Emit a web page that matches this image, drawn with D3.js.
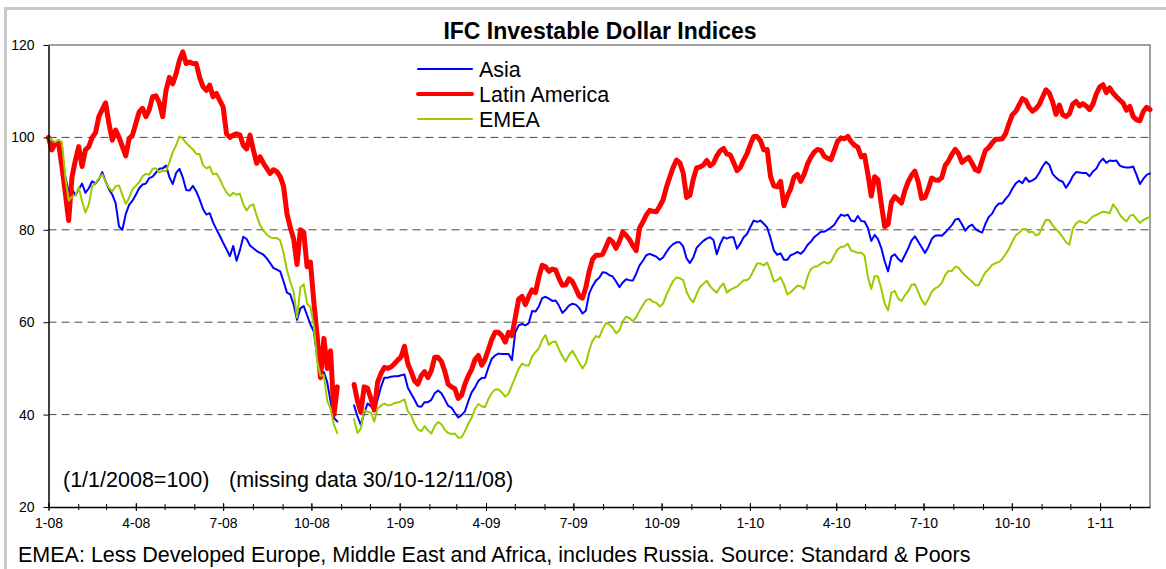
<!DOCTYPE html>
<html>
<head>
<meta charset="utf-8">
<script src="https://cdn.jsdelivr.net/npm/d3@7"></script>
<style>
  body { margin: 0; background: #fff; }
  svg { display: block; font-family: "Liberation Sans", Arial, sans-serif; }
</style>
</head>
<body>
<svg id="chart"></svg>
<script>
// readings twice a week, first one on 1 Jan 2008 (index = 100)
const startDate = new Date(Date.UTC(2008, 0, 1));
const stepHours = 84;

const asia = [
  100, 99.4, 98.7, 99.2, 96.5, 91.5, 88.3, 88.8, 87.5, 88.8,
  90, 88, 89, 90.5, 90, 90.9, 92.5, 90.5, 88.8, 87.6,
  85.7, 80.7, 80, 83.4, 85.4, 86.3, 87.6, 89, 89.8, 90,
  91.2, 91.5, 92.4, 93.2, 93.3, 93.9, 91.4, 89.9, 92.3, 93.2,
  91.3, 88.6, 88.5, 89.5, 88.3, 86.6, 84.5, 83.3, 83.6, 81.6,
  80.1, 78.7, 77.2, 75.8, 74.3, 76.5, 73.3, 75.6, 78.5, 78,
  76.6, 76, 75.4, 75, 74.6, 73.8, 72.8, 71.7, 71.4, 71,
  68.8, 66.4, 66, 63.8, 60.5, 63, 63.5, 61.5, 59.5, 58,
  52.6, 48.9, 49.2, 47, 42.8, 39.3, 38.5, null, null, null,
  null, 42, 39.6, 37.8, 40.3, 42.4, 41.8, 40.8, 43.2, 46,
  48, 48, 48.2, 48.3, 48.3, 48.5, 48.7, 45.8, 44.5, 43.2,
  41.8, 41.7, 42.7, 42.7, 43.2, 44.6, 45.2, 44.6, 43.3, 41.9,
  41.5, 40.4, 39.4, 39.9, 40.7, 42.9, 44.8, 45.9, 47.3, 47.9,
  48, 50.2, 52.1, 52.8, 53.2, 53.1, 53.1, 53.1, 51.8, 57.8,
  59.3, 59.6, 59.3, 59.8, 62.4, 62.3, 63.4, 65.2, 65.5, 65.1,
  64.6, 64.7, 63.6, 62, 62.7, 63.6, 64, 63.8, 63.1, 61.9,
  62.5, 66.2, 67.8, 69, 69.6, 70.8, 70.7, 70.2, 69.9, 68.8,
  67.6, 68.6, 69.3, 69.1, 69, 70.5, 72.3, 73.3, 74.5, 74.8,
  74.5, 74.2, 73.5, 74, 75.2, 76.2, 76.9, 77.3, 77.3, 76.4,
  73.8, 72.8, 74, 76.1, 76.9, 77.6, 78.1, 78.4, 77.8, 74.7,
  76.9, 78.4, 78.1, 78.4, 78.4, 75.9, 77, 78.4, 79.1, 80.6,
  82, 81.7, 82, 81.3, 80.5, 78.2, 75.5, 74.6, 74.9, 73.5,
  73.5, 74.5, 74.8, 75.2, 74.8, 75.5, 76.7, 77.4, 78.4, 79,
  79.6, 79.6, 80, 80.5, 81.1, 82.3, 83.3, 83, 83.3, 82,
  81.8, 83, 81.9, 81.8, 80.4, 77.6, 78.9, 78, 76, 73.2,
  71, 74.2, 74.7, 73.7, 73.1, 74.5, 76, 77.7, 78.6, 77.4,
  76.2, 75, 76.3, 78, 78.7, 78.8, 78.7, 79.4, 80.2, 81,
  82.2, 82.4, 81.2, 79.8, 80.7, 81.1, 80.2, 79.7, 79.4, 81.3,
  82.8, 83.5, 84.9, 85.7, 85.7, 86.7, 87.5, 88.9, 90, 90.6,
  90.1, 91.3, 90.4, 90.7, 91.2, 92.3, 93.7, 94.7, 94.1, 92.1,
  91.3, 90.7, 90.4, 89.1, 90.2, 91.6, 92.5, 92.4, 92.3, 92.3,
  91.6, 92.6, 93.2, 94.6, 95.4, 94.5, 95, 94.9, 95, 93.9,
  93.6, 93.5, 93.5, 93.7, 91.9, 89.9, 91, 91.9, 92.2
];

const latinAmerica = [
  100, 97.3, 98.7, 98.7, 93.7, 88, 82, 91.5, 95, 98,
  93.7, 97.3, 98, 100, 101, 104.5, 106, 107.5, 103, 99.4,
  101.6, 100, 98, 96, 99.7, 100.5, 103, 105.5, 106.3, 104.5,
  106, 108.8, 109, 107.5, 104.5, 110.2, 113, 111.6, 113.8, 116.7,
  118.5, 116, 116.3, 116, 116, 113, 111, 110.2, 111.3, 108.8,
  109.5, 108, 106.6, 100.8, 100, 100.5, 100.8, 100.5, 98.3, 97.5,
  100.5, 97.3, 94.4, 95.8, 94.4, 93.3, 92.2, 93, 92.6, 91.5,
  89.4, 83.5, 80.5, 78, 72.5, 80, 79.5, 72, 73, 64.5,
  57, 48, 56.5, 50, 53.8, 40, 46, null, null, null,
  null, 46.5, 43, 40.5, 46, 45.7, 43.5, 41, 47, 48.9,
  50.2, 50, 50.3, 51, 51.8, 52.5, 54.8, 51, 49.3, 47.3,
  46.6, 48.4, 49.3, 48, 49.5, 52.4, 52.4, 51.5, 49.4, 46.6,
  46, 45.6, 43.5, 44.2, 46.6, 48.4, 49.8, 51.9, 52.8, 50.7,
  52, 54.1, 56.3, 57.8, 57.8, 57.1, 55.7, 57.8, 57.1, 61,
  65, 65.6, 63.8, 65.6, 67, 66.4, 69.7, 72.3, 72, 71,
  71.5, 71.3, 69.5, 68, 68.1, 69.4, 68.8, 67.3, 65.7, 65.2,
  67.5, 71, 73.6, 74.5, 74.5, 74.7, 76.3, 78, 77.4, 76,
  77.5, 79.5, 78.8, 77.9, 76.6, 75.5, 80.4, 81.7, 83.2, 84.2,
  84, 83.9, 85.1, 86.5, 89.2, 91.4, 93.5, 95.1, 94.5, 92.3,
  87, 87.5, 91, 93.4, 93.6, 94, 95, 93.9, 94.4, 96,
  97.1, 97.6, 96.4, 96.2, 94.6, 92.8, 93.5, 95.1, 96.5, 98.5,
  100.2, 100.2, 99.3, 97.3, 97.4, 91.5, 89.5, 89.3, 90.5, 85.2,
  87.3, 88.9, 91.4, 92, 90.5, 92, 94.2, 95.7, 96.8, 97.4,
  97.2, 95.9, 95.5, 95.2, 97.2, 99.2, 99.9, 99.7, 100.2, 99.1,
  98.3, 97.9, 95.8, 96.1, 92, 87.3, 91.5, 90.8, 85.5, 80.7,
  81.2, 86, 87.2, 86.5, 85.8, 88.5, 90.4, 91.8, 92.7, 90.3,
  86.8, 87, 88.9, 91.2, 90.8, 90.7, 91.3, 93.9, 94.9, 96.3,
  97.4, 96.5, 94.6, 95.2, 95.7, 94.4, 93, 92.7, 95, 97.2,
  97.8, 98.8, 99.6, 99.6, 99.7, 100.8, 103, 104.9, 105.6, 107,
  108.4, 108, 106.5, 105.7, 106.2, 107.1, 108.7, 110.3, 109.6, 107.7,
  105, 107, 104.9, 104.5, 105.1, 107.2, 107.8, 106.8, 107.3, 106.8,
  106, 107.2, 109.4, 110.9, 111.4, 109.7, 110.7, 109.6, 108.8, 108.1,
  107.4, 105.9, 106.7, 104.5, 103.8, 103.6, 105.6, 106.5, 106
];

const emea = [
  100, 99.4, 99, 99.5, 99, 91.5, 86.3, 87.2, 87.4, 89.2,
  86.2, 83.7, 85.5, 89.4, 90.1, 91.1, 92, 90.5, 89.1, 88.3,
  89.5, 89.6, 87.5, 85.6, 86.9, 88.8, 89.5, 90.3, 91.6, 92.1,
  91.9, 93.2, 93.3, 92.4, 92.8, 92.7, 94.6, 96.8, 98.3, 100.2,
  99.7, 98.8, 98.1, 97.4, 96.4, 96.4, 94, 93.3, 93.7, 92,
  92.2, 91, 89.4, 88.1, 87.3, 88, 87.6, 87.8, 85.5, 84.2,
  85.2, 85.5, 83, 81, 79.8, 79, 78.4, 78.2, 78.2, 77.7,
  75, 71.3, 68.7, 66.6, 61, 67.5, 68.2, 64, 63.3, 59.3,
  51.5, 48.4, 48.5, 43, 41.3, 37.8, 36, null, null, null,
  null, 39, 36, 37, 41, 40.6, 40.4, 38.5, 41.3, 41.9,
  42.4, 42, 42.1, 42.5, 42.6, 42.9, 43.3, 40.7, 39.9, 38,
  36.8, 36.4, 37.5, 36.6, 35.9, 37.5, 38.4, 37.9, 36.7, 36,
  35.8, 35.9, 35, 35.1, 36.4, 38, 39.3, 41.2, 42.3, 41.8,
  41.6, 43.4, 44.7, 45.4, 45.5, 44.8, 43.9, 44.5, 46.4, 48.1,
  49.9, 51, 50.7, 50.6, 52.6, 53.5, 54.3, 56.2, 57.2, 55.1,
  55.7, 55.8, 54.1, 52.7, 51.5, 52.9, 53.8, 52.6, 51.2, 50,
  51.1, 53.9, 56, 57, 56.7, 58.5, 59.8, 59.5, 58.8, 57.6,
  58.2, 60.2, 61.2, 60.9, 60.2, 61.1, 62.5, 63.7, 64.8, 65,
  64.4, 64.2, 63.4, 64, 65.9, 67.5, 68.9, 69.7, 69.5, 69.1,
  66.6, 65.1, 64.3, 66.1, 67.6, 68.3, 69, 67.8, 67, 66.4,
  67.6, 68.4, 66.4, 67, 67.4, 67.7, 68.4, 69.1, 69.1, 69.8,
  71.3, 72.7, 72.7, 72.3, 72.9, 71.1, 68.8, 69.1, 69.7, 68.2,
  66, 66.5, 67.2, 67.9, 67.8, 67.2, 69.8, 71.5, 72, 72.1,
  72.7, 73.1, 72.7, 73.1, 74.5, 75.8, 76.3, 76.4, 77, 75.5,
  75.3, 75, 75.1, 74.4, 69.8, 67.2, 70, 69.9, 67.2, 64,
  62.6, 66.4, 66.8, 65.1, 64.6, 65.8, 66.7, 68.1, 68.2, 66.5,
  64.8, 63.8, 65, 66.6, 67.3, 67.7, 68.5, 70.2, 71.1, 71.1,
  72, 71.8, 70.8, 70.1, 69.4, 68.8, 68, 68, 69.5, 70.8,
  71.5, 72.4, 72.8, 73, 73.7, 74.7, 75.9, 77.4, 78.8, 79.3,
  80.1, 80.2, 79.4, 79.6, 78.8, 79.1, 80.7, 82.2, 82.1, 81,
  80.1, 79.4, 78.4, 77.3, 76.8, 80.2, 81.4, 81.9, 81.6, 81.4,
  82.2, 82.9, 83.2, 83.6, 83.9, 83.8, 83.6, 85.5, 84.6, 83.3,
  82.4, 81.8, 83, 83.3, 82.3, 81.5, 82.1, 82.5, 82.8
];

const seriesNames = ["Asia", "Latin America", "EMEA"];
const yTicks = [20, 40, 60, 80, 100, 120];
const gridValues = [40, 60, 80, 100];
const titleText = "IFC Investable Dollar Indices";
const noteBase = "(1/1/2008=100)";
const noteGap = "(missing data 30/10-12/11/08)";
const footerText = "EMEA: Less Developed Europe, Middle East and Africa, includes Russia. Source: Standard & Poors";

const width = 1166;
const height = 569;
const plot = { left: 48.5, right: 1150, top: 45, bottom: 507 };
const colors = { "Asia": "#0000ff", "Latin America": "#ff0000", "EMEA": "#99cc00" };
const strokes = { "Asia": 2, "Latin America": 5, "EMEA": 2 };
const legendStrokes = { "Asia": 2, "Latin America": 4, "EMEA": 2 };

const series = [asia, latinAmerica, emea].map((vals, i) => ({
  name: seriesNames[i],
  values: vals.map((v, k) => ({ date: d3.utcHour.offset(startDate, k * stepHours), v })),
}));

const svg = d3.select("#chart").attr("width", width).attr("height", height);

// outer frame
svg.append("rect")
  .attr("x", 5.5).attr("y", 8.5)
  .attr("width", width + 20).attr("height", height + 20)
  .attr("fill", "#fff").attr("stroke", "#c8c8c8").attr("stroke-width", 3);

const lastDate = d3.utcHour.offset(startDate, (asia.length - 1) * stepHours);
const x = d3.scaleUtc().domain([startDate, lastDate]).range([plot.left, plot.right]);
const y = d3.scaleLinear().domain([20, 120]).range([plot.bottom, plot.top]);

// grid
svg.append("g")
  .selectAll("line")
  .data(gridValues)
  .join("line")
  .attr("x1", plot.left).attr("x2", plot.right)
  .attr("y1", (d) => y(d)).attr("y2", (d) => y(d))
  .attr("stroke", "#4a4a4a").attr("stroke-width", 1)
  .attr("stroke-dasharray", "8,5");

// plot border (top / right)
svg.append("path")
  .attr("d", `M${plot.left},${y(120)}H${plot.right}V${plot.bottom}`)
  .attr("fill", "none").attr("stroke", "#808080").attr("stroke-width", 1.5);

// lines
const line = d3.line()
  .defined((d) => d.v != null)
  .x((d) => x(d.date))
  .y((d) => y(d.v));

svg.append("g")
  .selectAll("path")
  .data(series)
  .join("path")
  .attr("d", (d) => line(d.values))
  .attr("fill", "none")
  .attr("stroke", (d) => colors[d.name])
  .attr("stroke-width", (d) => strokes[d.name])
  .attr("stroke-linejoin", "round")
  .attr("stroke-linecap", "round");

// y axis
const yAxis = svg.append("g")
  .attr("transform", `translate(${plot.left},0)`)
  .call(d3.axisLeft(y).tickValues(yTicks).tickSize(5).tickSizeOuter(0).tickPadding(9));
yAxis.select(".domain").attr("stroke", "#000").attr("stroke-width", 1.5);
yAxis.selectAll(".tick line").attr("stroke", "#000");
yAxis.selectAll(".tick text")
  .attr("font-family", "'Liberation Sans', Arial, sans-serif")
  .attr("font-size", 14).attr("fill", "#000");

// x axis, monthly minor ticks and quarterly labelled ticks
const minorAxis = svg.append("g")
  .attr("transform", `translate(0,${plot.bottom})`)
  .call(d3.axisBottom(x).ticks(d3.utcMonth.every(1)).tickFormat("").tickSize(3).tickSizeOuter(0));
minorAxis.select(".domain").remove();
minorAxis.selectAll(".tick line").attr("y1", -3).attr("stroke", "#000");

const fmt = (d) => `${d.getUTCMonth() + 1}-${d3.utcFormat("%y")(d)}`;
const xAxis = svg.append("g")
  .attr("transform", `translate(0,${plot.bottom})`)
  .call(d3.axisBottom(x).ticks(d3.utcMonth.every(3)).tickFormat(fmt).tickSize(4).tickSizeOuter(0).tickPadding(7));
xAxis.select(".domain").attr("stroke", "#000").attr("stroke-width", 1.5);
xAxis.selectAll(".tick line").attr("y1", -4).attr("stroke", "#000");
xAxis.selectAll(".tick text")
  .attr("font-family", "'Liberation Sans', Arial, sans-serif")
  .attr("font-size", 14).attr("fill", "#000");

// title
svg.append("text")
  .attr("x", 600).attr("y", 39)
  .attr("text-anchor", "middle")
  .attr("font-size", 23).attr("font-weight", "bold")
  .text(titleText);

// legend
const legend = svg.append("g")
  .selectAll("g")
  .data(seriesNames)
  .join("g")
  .attr("transform", (d, i) => `translate(418,${69 + i * 25})`);
legend.append("line")
  .attr("x1", 0).attr("x2", 54)
  .attr("stroke", (d) => colors[d])
  .attr("stroke-width", (d) => legendStrokes[d])
  .attr("stroke-linecap", "round");
legend.append("text")
  .attr("x", 61).attr("dy", "0.35em")
  .attr("font-size", 21.5)
  .text((d) => d);

// notes
svg.append("text").attr("x", 63).attr("y", 487).attr("font-size", 21.5).text(noteBase);
svg.append("text").attr("x", 229).attr("y", 487).attr("font-size", 21.5).text(noteGap);
svg.append("text").attr("x", 18).attr("y", 562).attr("font-size", 21.5).text(footerText);
</script>
</body>
</html>
